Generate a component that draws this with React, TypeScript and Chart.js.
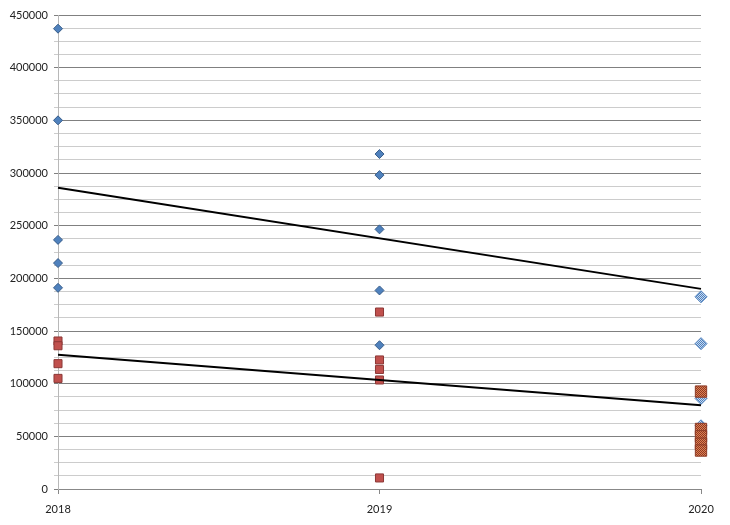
import React, { useEffect, useRef } from "react";
import { Chart, registerables } from "chart.js";

Chart.register(...registerables);

const years = [2018, 2019, 2020];
const blue2018 = [437000, 350000, 236500, 214500, 191000];
const blue2019 = [318000, 298000, 246500, 188500, 136500];
const blue2020 = [182500, 138000, 86000, 60000];
const red2018 = [140500, 136000, 119000, 105000];
const red2019 = [168000, 122500, 113500, 103500, 10500];
const red2020 = [92500, 57000, 50000, 43000, 36500];
const blueTrend = [286000, 190000];
const redTrend = [127500, 79500];
const trendX = [2018, 2020];
const yMax = 450000;
const yStep = 12500;
const yLabelStep = 50000;

function makePattern(c1: string, c2: string): CanvasPattern | string {
  const cv = document.createElement("canvas");
  cv.width = 2;
  cv.height = 2;
  const g = cv.getContext("2d");
  if (!g) return c1;
  g.fillStyle = c1;
  g.fillRect(0, 0, 2, 2);
  g.fillStyle = c2;
  g.fillRect(0, 0, 1, 1);
  g.fillRect(1, 1, 1, 1);
  const p = g.createPattern(cv, "repeat");
  return p || c1;
}

export default function App() {
  const ref = useRef<HTMLCanvasElement | null>(null);

  useEffect(() => {
    if (!ref.current) return;
    const redPat = makePattern("#e08050", "#8c3a26");
    const bluePat = makePattern("#c6d9f1", "#4f81bd");

    const bluePts = [
      ...blue2018.map((y) => ({ x: years[0], y })),
      ...blue2019.map((y) => ({ x: years[1], y })),
      ...blue2020.map((y) => ({ x: years[2], y })),
    ];
    const redPts = [
      ...red2018.map((y) => ({ x: years[0], y })),
      ...red2019.map((y) => ({ x: years[1], y })),
      ...red2020.map((y) => ({ x: years[2], y })),
    ];
    const isLast = (p: any) => p && p.x === years[2];

    const chart = new Chart(ref.current, {
      type: "scatter",
      data: {
        datasets: [
          {
            type: "line",
            data: trendX.map((x, i) => ({ x, y: blueTrend[i] })),
            borderColor: "#000000",
            borderWidth: 2,
            pointRadius: 0,
            fill: false,
            clip: false,
            order: 0,
          } as any,
          {
            type: "line",
            data: trendX.map((x, i) => ({ x, y: redTrend[i] })),
            borderColor: "#000000",
            borderWidth: 2,
            pointRadius: 0,
            fill: false,
            clip: false,
            order: 0,
          } as any,
          {
            data: redPts,
            pointStyle: "rect",
            backgroundColor: (ctx: any) => (isLast(ctx.raw) ? redPat : "#c0504d"),
            borderColor: (ctx: any) => (isLast(ctx.raw) ? "#8c3a26" : "#8c3836"),
            borderWidth: 1,
            pointRadius: (ctx: any) => (isLast(ctx.raw) ? 8 : 5.7),
            clip: false,
            order: 1,
          } as any,
          {
            data: bluePts,
            pointStyle: "rectRot",
            backgroundColor: (ctx: any) => (isLast(ctx.raw) ? bluePat : "#4f81bd"),
            borderColor: (ctx: any) => (isLast(ctx.raw) ? "#4f81bd" : "#385d8a"),
            borderWidth: 1,
            pointRadius: (ctx: any) => (isLast(ctx.raw) ? 6 : 4.5),
            clip: false,
            order: 2,
          } as any,
        ],
      },
      options: {
        animation: false,
        responsive: false,
        devicePixelRatio: 1,
        layout: { padding: { top: 15, right: 29, left: 0, bottom: 0 } },
        plugins: {
          legend: { display: false },
          tooltip: { enabled: false },
        },
        scales: {
          x: {
            type: "linear",
            min: years[0],
            max: years[2],
            afterFit: (s: any) => {
              s.height = 36;
            },
            ticks: {
              stepSize: 1,
              color: "#222222",
              padding: 9,
              font: { family: "Lato", size: 11 },
              callback: (v: any) => String(v),
            },
            grid: {
              drawOnChartArea: false,
              drawTicks: true,
              tickLength: 5,
              color: "#888888",
            },
            border: { color: "#888888", width: 1 },
          },
          y: {
            min: 0,
            max: yMax,
            afterFit: (s: any) => {
              s.width = 58;
            },
            ticks: {
              stepSize: yStep,
              autoSkip: false,
              color: "#222222",
              padding: 6,
              font: { family: "Lato", size: 11 },
              callback: (v: any) => (Number(v) % yLabelStep === 0 ? String(v) : ""),
            },
            grid: {
              tickLength: 4,
              color: (ctx: any) =>
                ctx.tick && ctx.tick.value % yLabelStep === 0 ? "#808080" : "#cccccc",
            },
            border: { color: "#b8b8b8", width: 1 },
          },
        },
      },
    });
    return () => chart.destroy();
  }, []);

  return (
    <div style={{ position: "fixed", left: 0, top: 0, width: 730, height: 525, background: "#ffffff" }}>
      <canvas ref={ref} width={730} height={525} style={{ width: 730, height: 525 }} />
    </div>
  );
}
